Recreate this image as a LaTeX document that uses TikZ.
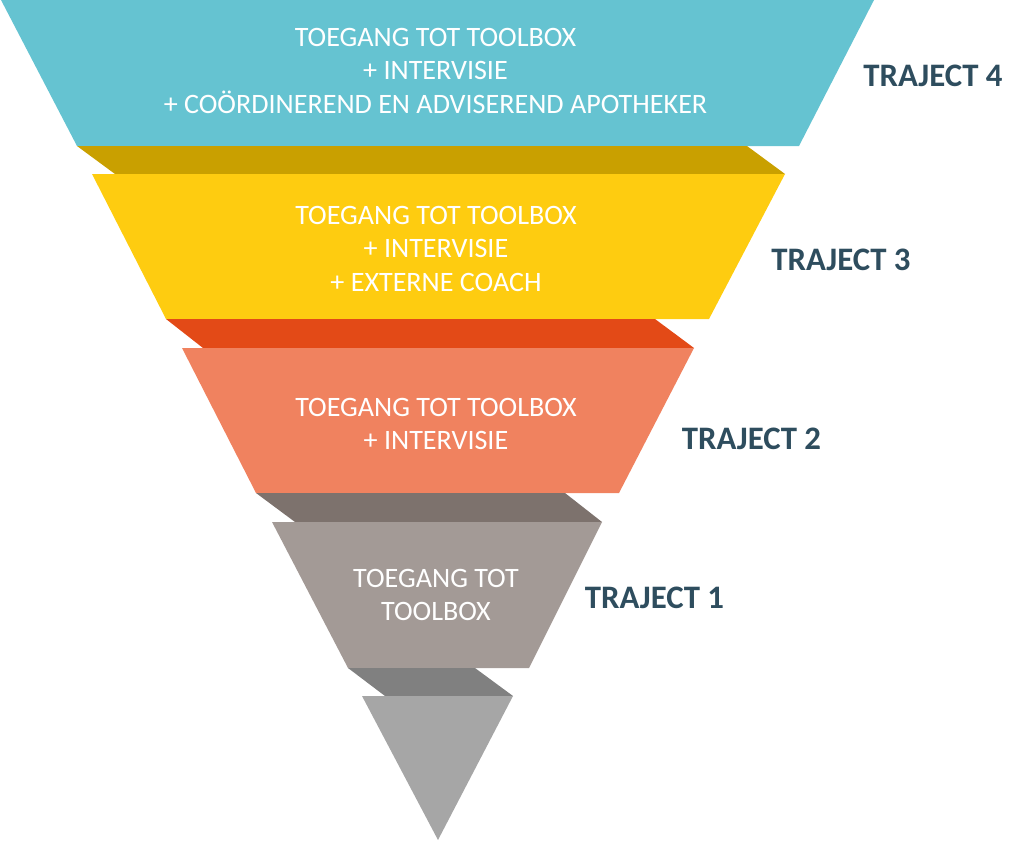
\documentclass[tikz,border=0pt]{standalone}
\usepackage{fontspec}
\setmainfont{Carlito}
\definecolor{cTeal}{RGB}{101,195,209}
\definecolor{cGold}{RGB}{201,160,0}
\definecolor{cYellow}{RGB}{254,204,16}
\definecolor{cRed}{RGB}{227,74,23}
\definecolor{cSalmon}{RGB}{240,130,95}
\definecolor{cBrown}{RGB}{125,114,109}
\definecolor{cTaupe}{RGB}{163,154,150}
\definecolor{cGrayBand}{RGB}{128,128,128}
\definecolor{cLight}{RGB}{166,166,166}
\definecolor{cLabel}{RGB}{46,77,94}
\tikzset{
  blocktxt/.style={text=white, font=\fontsize{28.1}{33.5}\selectfont, anchor=base, inner sep=0pt},
  trajlbl/.style={text=cLabel, font=\fontsize{32.8}{38}\selectfont\bfseries, anchor=base, inner sep=0pt},
}
\begin{document}
\begin{tikzpicture}[x=1pt,y=-1pt]
\useasboundingbox (0,0) rectangle (1024,843);
% funnel layers
\fill[cTeal]   (1,0) -- (874,0) -- (799,146) -- (77,146) -- cycle;
\fill[cGold]   (77,146) -- (747,146) -- (785,174) -- (115,174) -- cycle;
\fill[cYellow] (92,174) -- (785,174) -- (709,319) -- (166,319) -- cycle;
\fill[cRed]    (166,319) -- (655,319) -- (694,348) -- (203,348) -- cycle;
\fill[cSalmon] (182,348) -- (694,348) -- (619,493) -- (256,493) -- cycle;
\fill[cBrown]  (256,493) -- (565,493) -- (602,522) -- (295,522) -- cycle;
\fill[cTaupe]  (272,522) -- (602,522) -- (529,668) -- (348,668) -- cycle;
\fill[cGrayBand] (348,668) -- (475,668) -- (513,696) -- (385,696) -- cycle;
\fill[cLight]  (362,696) -- (513,696) -- (438,840) -- cycle;
% block texts
\node[blocktxt] (t4a) at (435.5,46) {TOEGANG TOT TOOLBOX};
\node[blocktxt] (t4b) at (435.5,79.5) {+ INTERVISIE};
\node[blocktxt] (t4c) at (435.5,113) {+ COÖRDINEREND EN ADVISEREND APOTHEKER};
\node[blocktxt] (t3a) at (436,224) {TOEGANG TOT TOOLBOX};
\node[blocktxt] (t3b) at (436,257.5) {+ INTERVISIE};
\node[blocktxt] (t3c) at (436,291) {+ EXTERNE COACH};
\node[blocktxt] (t2a) at (436,416) {TOEGANG TOT TOOLBOX};
\node[blocktxt] (t2b) at (436,449) {+ INTERVISIE};
\node[blocktxt] (t1a) at (436,587) {TOEGANG TOT};
\node[blocktxt] (t1b) at (436,620) {TOOLBOX};
% labels
\node[trajlbl] (l4) at (933,86) {TRAJECT 4};
\node[trajlbl] (l3) at (841,270) {TRAJECT 3};
\node[trajlbl] (l2) at (751.5,449) {TRAJECT 2};
\node[trajlbl] (l1) at (654.5,608) {TRAJECT 1};
\end{tikzpicture}
\end{document}
